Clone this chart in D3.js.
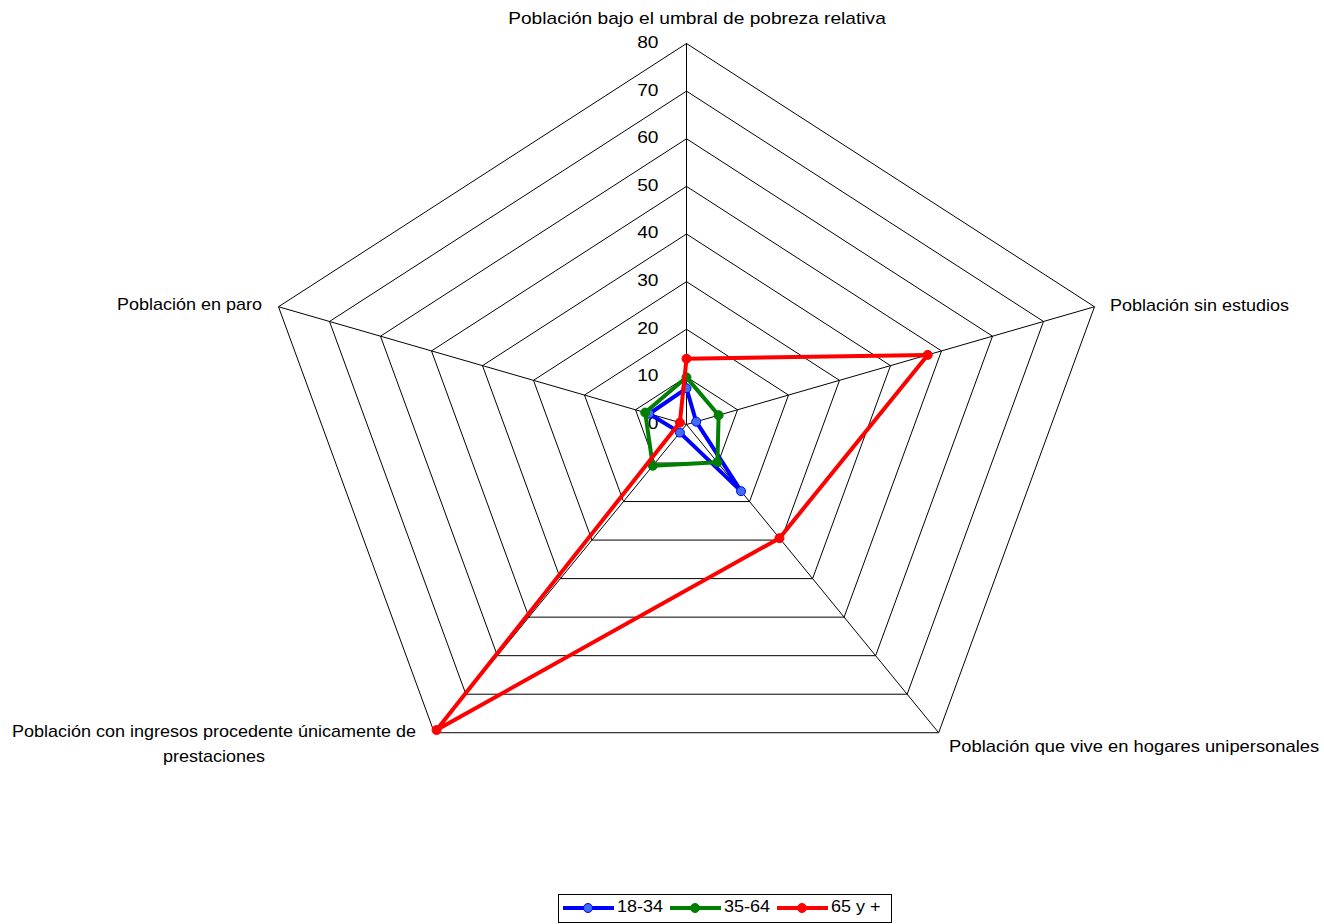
<!DOCTYPE html>
<html>
<head>
<meta charset="utf-8">
<script src="https://cdn.jsdelivr.net/npm/d3@7"></script>
<style>
  body { margin: 0; background: #fff; }
  text { font-family: "Liberation Sans", Arial, sans-serif; fill: #000; }
</style>
</head>
<body>
<div id="chart"></div>
<script>
// axis labels, clockwise from the top
const axisLabels = [
    ["Población bajo el umbral de pobreza relativa"],
    ["Población sin estudios"],
    ["Población que vive en hogares unipersonales"],
    ["Población con ingresos procedente únicamente de", "prestaciones"],
    ["Población en paro"]
]
const seriesNames = ["18-34", "35-64", "65 y +"]
const values1834 = [7.6, 1.9, 17.3, 2.1, 7.3]
const values3564 = [9.9, 6.3, 9.8, 10.7, 8.1]
const values65 = [13.8, 47.3, 29.5, 79.3, 1.3]
const tickValues = [0, 10, 20, 30, 40, 50, 60, 70, 80]

const series = [
    { name: seriesNames[0], values: values1834, color: "#0000ff", marker: "#3f6ef5" },
    { name: seriesNames[1], values: values3564, color: "#008000", marker: "#008000" },
    { name: seriesNames[2], values: values65, color: "#ff0000", marker: "#ff0000" }
]

const width = 1324, height = 924
const cx = 686.5, cy = 424.5
const sx = 1.126   // the picture is a bit wider than tall
const nAxes = axisLabels.length

const r = d3.scaleLinear().domain([0, 80]).range([0, 381])
const angle = d3.scaleLinear().domain([0, nAxes]).range([0, 2 * Math.PI])

function pt(i, v) {
    const a = angle(i)
    return [cx + sx * r(v) * Math.sin(a), cy - r(v) * Math.cos(a)]
}

const svg = d3.select("#chart")
    .append("svg")
    .attr("width", width)
    .attr("height", height)

// grid pentagons
const grid = svg.append("g")
grid.selectAll("polygon")
    .data(tickValues.slice(1))
    .enter()
    .append("polygon")
    .attr("points", d => d3.range(nAxes).map(i => pt(i, d).join(",")).join(" "))
    .attr("fill", "none")
    .attr("stroke", "#000")
    .attr("stroke-width", 1)

// spokes
grid.selectAll("line")
    .data(d3.range(nAxes))
    .enter()
    .append("line")
    .attr("x1", cx).attr("y1", cy)
    .attr("x2", i => pt(i, 80)[0])
    .attr("y2", i => pt(i, 80)[1])
    .attr("stroke", "#000")
    .attr("stroke-width", 1)

// tick labels along the top axis
svg.append("g")
    .selectAll("text")
    .data(tickValues)
    .enter()
    .append("text")
    .attr("transform", d => `translate(${cx - 28},${pt(0, d)[1]}) scale(${sx},1)`)
    .attr("text-anchor", "end")
    .attr("dominant-baseline", "middle")
    .style("font-size", "17px")
    .text(d => d)

// axis labels
const labelPos = [
    { x: 697, y: 24, anchor: "middle", size: 17 },
    { x: 1110, y: 311, anchor: "start", size: 16 },
    { x: 949, y: 752, anchor: "start", size: 16.3 },
    { x: 214, y: 737, anchor: "middle", size: 16 },
    { x: 262, y: 310, anchor: "end", size: 16 }
]
const labels = svg.append("g")
axisLabels.forEach((lines, i) => {
    const p = labelPos[i]
    const t = labels.append("text")
        .attr("transform", `translate(${p.x},${p.y}) scale(${sx},1)`)
        .attr("text-anchor", p.anchor)
        .style("font-size", p.size + "px")
    lines.forEach((line, k) => {
        t.append("tspan").attr("x", 0).attr("y", k * 25).text(line)
    })
})

// series
const lineGen = d3.line()
series.forEach(s => {
    const pts = s.values.map((v, i) => pt(i, v))
    svg.append("path")
        .attr("d", lineGen(pts) + "Z")
        .attr("fill", "none")
        .attr("stroke", s.color)
        .attr("stroke-width", 4)
        .attr("stroke-linejoin", "round")
    svg.append("g")
        .selectAll("circle")
        .data(pts)
        .enter()
        .append("circle")
        .attr("cx", d => d[0])
        .attr("cy", d => d[1])
        .attr("r", 4.5)
        .attr("fill", s.marker)
        .attr("stroke", s.color)
        .attr("stroke-width", 1)
})

// legend
const legend = svg.append("g")
legend.append("rect")
    .attr("x", 558.5).attr("y", 894.5)
    .attr("width", 333).attr("height", 28)
    .attr("fill", "#fff")
    .attr("stroke", "#000")
    .attr("stroke-width", 1)

const legendX = d3.scalePoint().domain(seriesNames).range([563, 777])
series.forEach(s => {
    const x0 = legendX(s.name), ly = 908
    legend.append("line")
        .attr("x1", x0).attr("x2", x0 + 51)
        .attr("y1", ly).attr("y2", ly)
        .attr("stroke", s.color)
        .attr("stroke-width", 4)
    legend.append("circle")
        .attr("cx", x0 + 25).attr("cy", ly)
        .attr("r", 4.5)
        .attr("fill", s.marker)
        .attr("stroke", s.color)
    legend.append("text")
        .attr("transform", `translate(${x0 + 54},${ly}) scale(${sx},1)`)
        .attr("dominant-baseline", "middle")
        .style("font-size", "16px")
        .text(s.name)
})
</script>
</body>
</html>
